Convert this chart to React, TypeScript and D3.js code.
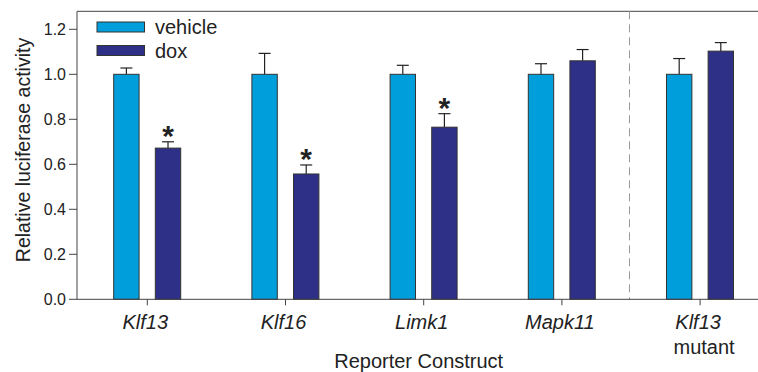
import React from 'react';
import * as d3 from 'd3';

const categories = ['Klf13', 'Klf16', 'Limk1', 'Mapk11', 'Klf13 mutant'];
const series = ['vehicle', 'dox'];
const vehicleValues = [1.0, 1.0, 1.0, 1.0, 1.0];
const vehicleErrors = [0.028, 0.093, 0.04, 0.047, 0.07];
const doxValues = [0.672, 0.557, 0.765, 1.06, 1.103];
const doxErrors = [0.028, 0.04, 0.06, 0.05, 0.038];
const significant = [true, true, true, false, false];
const yTicks = [0, 0.2, 0.4, 0.6, 0.8, 1.0, 1.2];

const COLORS: Record<string, string> = { vehicle: '#009edb', dox: '#2e3088' };
const FONT = 'Liberation Sans, Arial, sans-serif';

const WIDTH = 758;
const HEIGHT = 372;
const LEFT = 77;
const BOTTOM = 299.3;

const App = () => {
  const x = d3.scaleBand<string>()
    .domain(categories)
    .range([78.2, 78.2 + 138.2 * categories.length])
    .padding(0);
  const xSub = d3.scaleBand<string>()
    .domain(series)
    .range([35.5, 102.5])
    .paddingInner(0.39);
  const y = d3.scaleLinear()
    .domain([0, 1.28])
    .range([BOTTOM, BOTTOM - 225 * 1.28]);

  const values: Record<string, number[]> = { vehicle: vehicleValues, dox: doxValues };
  const errors: Record<string, number[]> = { vehicle: vehicleErrors, dox: doxErrors };
  const dashX = x(categories[4])! - 1.5;
  const axisMid = (x.range()[0] + x.range()[1]) / 2;

  return (
    <svg width={WIDTH} height={HEIGHT} style={{ position: 'absolute', left: 0, top: 0 }}>
      <rect width={WIDTH} height={HEIGHT} fill="#fff" />
      {/* frame */}
      <line x1={LEFT} x2={WIDTH} y1={y(1.28)} y2={y(1.28)} stroke="#444" strokeWidth={1} />
      <line x1={LEFT} x2={LEFT} y1={y(1.28)} y2={BOTTOM} stroke="#444" strokeWidth={1} />
      <line x1={dashX} x2={dashX} y1={y(1.28)} y2={BOTTOM} stroke="#999" strokeWidth={1} strokeDasharray="8,5" />

      {/* bars */}
      {categories.map((c, i) => (
        <g key={c} transform={`translate(${x(c)},0)`}>
          {series.map(s => {
            const v = values[s][i];
            const e = errors[s][i];
            const bx = xSub(s)!;
            const bw = xSub.bandwidth();
            const cx = bx + bw / 2;
            return (
              <g key={s}>
                <line x1={cx} x2={cx} y1={y(v)} y2={y(v + e)} stroke="#222" strokeWidth={1.2} />
                <line x1={cx - 6} x2={cx + 6} y1={y(v + e)} y2={y(v + e)} stroke="#222" strokeWidth={1.2} />
                <rect x={bx} y={y(v)} width={bw} height={BOTTOM - y(v)} fill={COLORS[s]} stroke="#333" strokeWidth={1} />
                {s === 'dox' && significant[i] && (
                  <text x={cx} y={y(v + e) + 4} textAnchor="middle" fontFamily={FONT} fontSize={30} fontWeight="bold" fill="#222">*</text>
                )}
              </g>
            );
          })}
        </g>
      ))}

      {/* x axis */}
      <line x1={LEFT} x2={WIDTH} y1={BOTTOM} y2={BOTTOM} stroke="#444" strokeWidth={1} />
      {categories.map(c => {
        const tx = x(c)! + x.bandwidth() / 2;
        const parts = c.split(' ');
        return (
          <g key={c}>
            <line x1={tx} x2={tx} y1={BOTTOM} y2={BOTTOM + 6} stroke="#444" />
            <text x={tx - 2} y={329} textAnchor="middle" fontFamily={FONT} fontSize={20} fontStyle="italic" fill="#222">{parts[0]}</text>
            {parts[1] && (
              <text x={tx + 4} y={354} textAnchor="middle" fontFamily={FONT} fontSize={20} fill="#222">{parts[1]}</text>
            )}
          </g>
        );
      })}
      <text x={axisMid - 5} y={368} textAnchor="middle" fontFamily={FONT} fontSize={20} fill="#222">Reporter Construct</text>

      {/* y axis */}
      {yTicks.map(t => (
        <g key={t}>
          <line x1={LEFT - 8} x2={LEFT} y1={y(t)} y2={y(t)} stroke="#444" />
          <text x={66} y={y(t) + 5.5} textAnchor="end" fontFamily={FONT} fontSize={16} fill="#222">{t.toFixed(1)}</text>
        </g>
      ))}
      <text transform={`translate(30,150) rotate(-90)`} textAnchor="middle" fontFamily={FONT} fontSize={19.5} fill="#222">Relative luciferase activity</text>

      {/* legend */}
      {series.map((s, i) => (
        <g key={s} transform={`translate(97,${22 + i * 23.5})`}>
          <rect width={47.5} height={10} fill={COLORS[s]} stroke="#333" strokeWidth={1} />
          <text x={58} y={12} fontFamily={FONT} fontSize={20} fill="#222">{s}</text>
        </g>
      ))}
    </svg>
  );
};

export default App;
